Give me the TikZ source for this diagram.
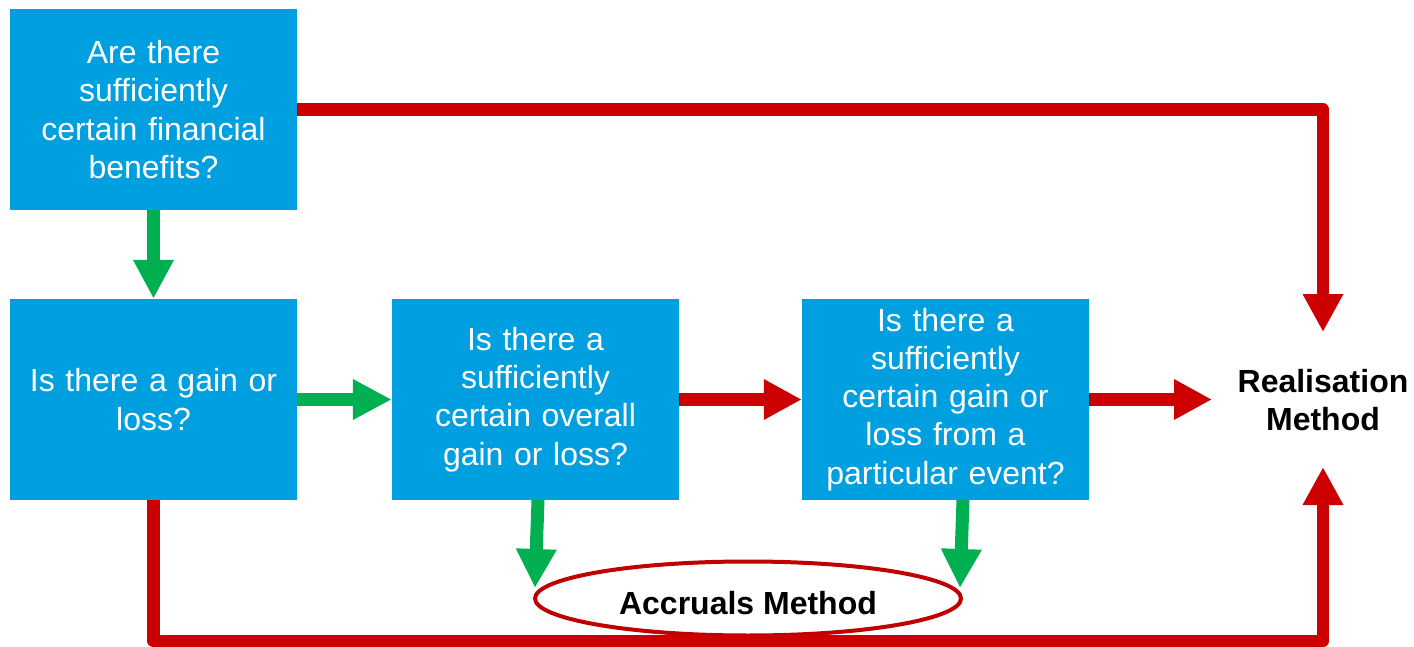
\documentclass[tikz,border=0pt]{standalone}
\usepackage{fontspec}
\setmainfont{Liberation Sans}
\usetikzlibrary{arrows.meta,shapes.geometric,calc}
\definecolor{boxblue}{RGB}{0,159,223}
\definecolor{arrgreen}{RGB}{0,176,80}
\definecolor{arrred}{RGB}{204,0,0}
\definecolor{ellred}{RGB}{192,0,0}
\tikzset{
  qbox/.style={fill=boxblue, text=white, minimum width=287pt, minimum height=201pt,
    inner sep=0pt, text width=280pt, align=center,
    font=\fontsize{32}{38.2}\selectfont},
  garrow/.style={draw=arrgreen, line width=13pt,
    -{Triangle[width=38pt,length=39pt]}, arrgreen},
  rarrow/.style={draw=arrred, line width=12.5pt, line join=round,
    -{Triangle[width=38pt,length=38pt]}, arrred},
  lbl/.style={font=\bfseries\fontsize{32}{38}\selectfont, align=center, inner sep=0pt},
}
\begin{document}
\begin{tikzpicture}[x=1pt,y=-1pt]
\useasboundingbox (0,0) rectangle (1414,647);
% boxes
\node[qbox] (b1) at (153.5,109.5) {Are there\\ sufficiently\\ certain financial\\ benefits?};
\node[qbox] (b2) at (153.5,399.5) {Is there a gain or\\ loss?};
\node[qbox] (b3) at (535.5,399.5) {Is there a\\ sufficiently\\ certain overall\\ gain or loss?};
\node[qbox] (b4) at (945.5,399.5) {Is there a\\ sufficiently\\ certain gain or\\ loss from a\\ particular event?};
\node[lbl] (real) at (1323,400.5) {Realisation\\ Method};
\node[ellipse, draw=ellred, line width=4pt, fill=white, minimum width=426pt,
  minimum height=74pt, inner sep=0pt] (acc) at (748,598.5) {};
\node[lbl] (acclbl) at (748,603) {Accruals Method};
% coordinates
\coordinate (rtop) at (1323,332);
\coordinate (rbot) at (1323,467);
\coordinate (s3) at (538,500);
\coordinate (t3) at (535,588);
\coordinate (s4) at (963,500);
\coordinate (t4) at (960,588);
\coordinate (b2low) at (153.5,641);
% arrows
\draw[garrow] (b1.south) -- (b2.north);
\draw[garrow] (b2.east) -- (b3.west);
\draw[rarrow] (b3.east) -- (b4.west);
\draw[rarrow] (b4.east) -- (1212,399.5);
\draw[garrow] (s3) -- (t3);
\draw[garrow] (s4) -- (t4);
\draw[rarrow] (b1.east) -| (rtop);
\draw[rarrow] (b2.south) -- (b2low) -| (rbot);
\end{tikzpicture}
\end{document}
